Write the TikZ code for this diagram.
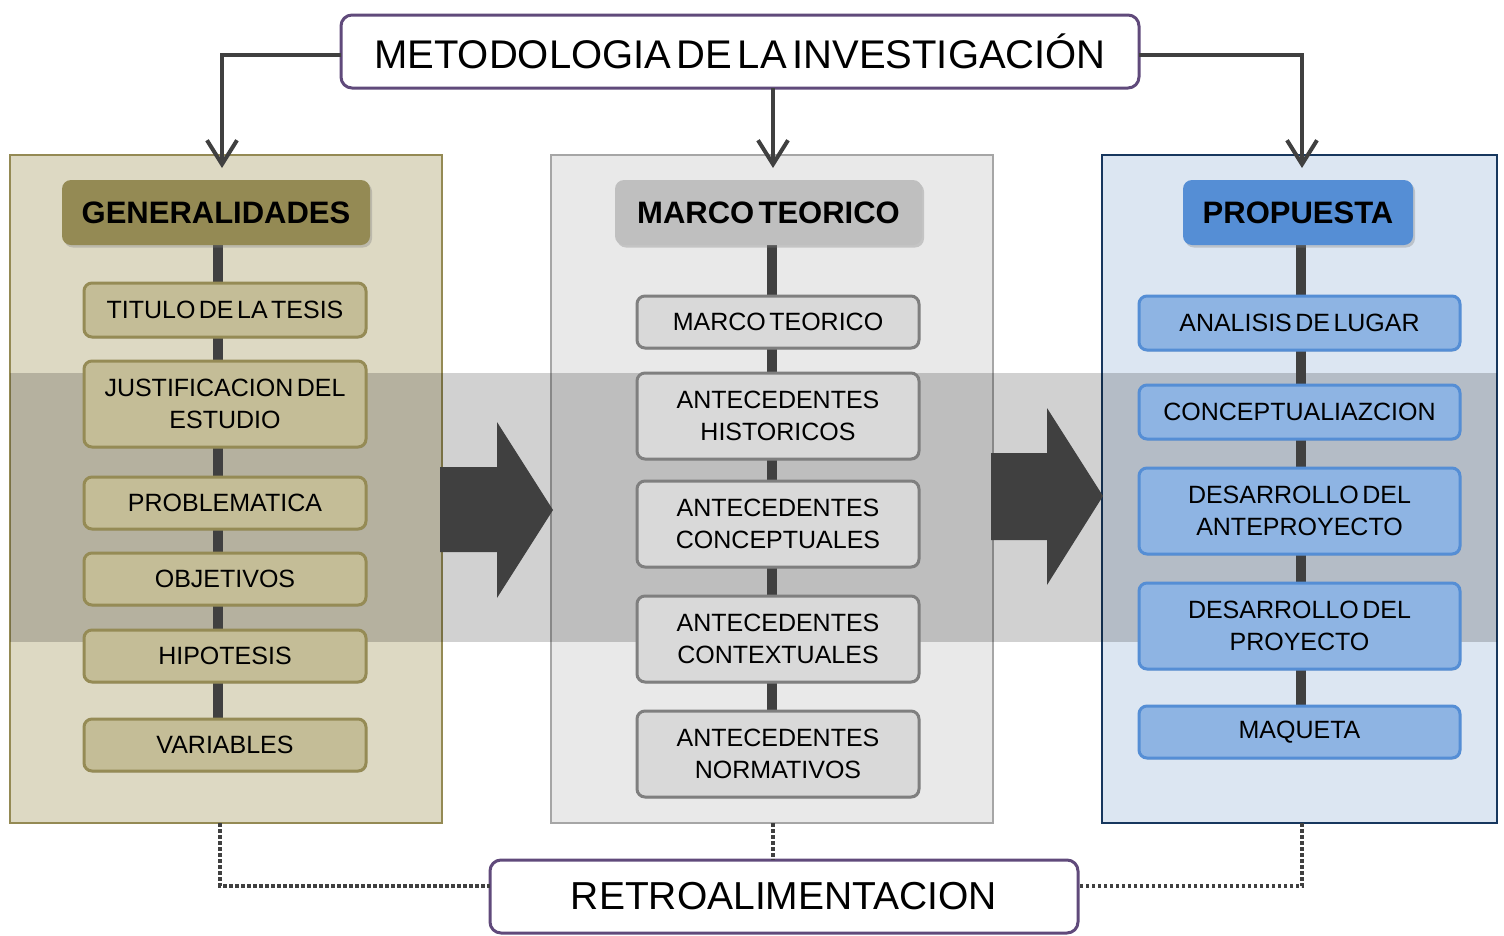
\documentclass[tikz,border=0pt]{standalone}
\usepackage{fontspec}
\setmainfont[WordSpace=0.5]{Liberation Sans}
\usetikzlibrary{arrows.meta,shadows}
\pgfdeclarelayer{back}
\pgfdeclarelayer{mid}
\pgfsetlayers{back,mid,main}
\definecolor{ttl}{HTML}{604A7B}
\definecolor{dk}{HTML}{404040}
\definecolor{pA}{HTML}{DDD9C3}
\definecolor{pAb}{HTML}{948A54}
\definecolor{hA}{HTML}{948A54}
\definecolor{bA}{HTML}{C4BD97}
\definecolor{bAb}{HTML}{958B55}
\definecolor{pB}{HTML}{E9E9E9}
\definecolor{pBb}{HTML}{A6A6A6}
\definecolor{hB}{HTML}{BFBFBF}
\definecolor{bB}{HTML}{D9D9D9}
\definecolor{bBb}{HTML}{7F7F7F}
\definecolor{pC}{HTML}{DCE6F2}
\definecolor{pCb}{HTML}{17375E}
\definecolor{hC}{HTML}{558ED5}
\definecolor{bC}{HTML}{8EB4E3}
\definecolor{bCb}{HTML}{558ED5}
\tikzset{
  panel/.style={draw, line width=2.5pt, minimum height=668pt, inner sep=0pt, outer sep=0pt},
  hdr/.style={rounded corners=9pt, minimum height=65pt, inner sep=0pt, outer sep=0pt,
    font=\fontsize{31}{36}\selectfont\bfseries,
    drop shadow={shadow xshift=2pt, shadow yshift=-2.5pt, opacity=0.35}},
  boxA/.style={draw=bAb, fill=bA, line width=3pt, rounded corners=8pt, minimum width=282pt,
    inner sep=0pt, outer sep=0pt, align=center, font=\fontsize{25}{32}\selectfont,
    drop shadow={shadow xshift=1pt, shadow yshift=-1.5pt, opacity=0.25}},
  boxB/.style={boxA, draw=bBb, fill=bB},
  boxC/.style={boxA, draw=bCb, fill=bC, minimum width=321pt},
  bigbox/.style={draw=ttl, fill=white, line width=3pt, rounded corners=11pt, minimum height=73pt,
    inner sep=0pt, outer sep=0pt},
  spine/.style={draw=dk, line width=10pt},
  conn/.style={draw=dk, line width=4pt, -{Straight Barb[length=24pt,width=30pt,line width=4pt]}},
  fb/.style={draw=dk, line width=4pt, dash pattern=on 3.5pt off 2.5pt},
  bigarrow/.style={fill=dk}
}
\begin{document}
\begin{tikzpicture}[x=1pt,y=-1pt]
\useasboundingbox (0,0) rectangle (1504,935);
\begin{pgfonlayer}{back}
% panels
\node[panel, draw=pAb, fill=pA, minimum width=432pt] (p1) at (226,489) {};
\node[panel, draw=pBb, fill=pB, minimum width=442pt] (p2) at (772,489) {};
\node[panel, draw=pCb, fill=pC, minimum width=395pt] (p3) at (1299.5,489) {};
% band
\fill[black, opacity=0.18] (10,373) rectangle (1497,642);
% big arrows
\fill[bigarrow] (440,467) -- (497,467) -- (497,422) -- (553,510) -- (497,598) -- (497,552) -- (440,552) -- cycle;
\fill[bigarrow] (991,453) -- (1047,453) -- (1047,408) -- (1103,496) -- (1047,585) -- (1047,540) -- (991,540) -- cycle;
\end{pgfonlayer}
% headers
\node[hdr, fill=hA, minimum width=308pt] (h1) at (216,212.5) {GENERALIDADES};
\node[hdr, fill=hB, minimum width=307pt] (h2) at (768.5,212.5) {MARCO TEORICO};
\node[hdr, fill=hC, minimum width=230pt] (h3) at (1298,212.5) {PROPUESTA};
% left boxes
\node[boxA, minimum height=54pt] (t1) at (225,310) {TITULO DE LA TESIS};
\node[boxA, minimum height=86pt] (t2) at (225,404) {JUSTIFICACION DEL\\ESTUDIO};
\node[boxA, minimum height=52pt] (t3) at (225,503) {PROBLEMATICA};
\node[boxA, minimum height=52pt] (t4) at (225,579) {OBJETIVOS};
\node[boxA, minimum height=52pt] (t5) at (225,656) {HIPOTESIS};
\node[boxA, minimum height=52pt] (t6) at (225,745) {VARIABLES};
% middle boxes
\node[boxB, minimum height=52pt] (m1) at (778,322) {MARCO TEORICO};
\node[boxB, minimum height=86pt] (m2) at (778,416) {ANTECEDENTES\\HISTORICOS};
\node[boxB, minimum height=86pt] (m3) at (778,524) {ANTECEDENTES\\CONCEPTUALES};
\node[boxB, minimum height=86pt] (m4) at (778,639) {ANTECEDENTES\\CONTEXTUALES};
\node[boxB, minimum height=86pt] (m5) at (778,754) {ANTECEDENTES\\NORMATIVOS};
% right boxes
\node[boxC, minimum height=54pt] (r1) at (1299.5,323) {ANALISIS DE LUGAR};
\node[boxC, minimum height=54pt] (r2) at (1299.5,412) {CONCEPTUALIAZCION};
\node[boxC, minimum height=86pt] (r3) at (1299.5,511) {DESARROLLO DEL\\ANTEPROYECTO};
\node[boxC, minimum height=86pt] (r4) at (1299.5,626) {DESARROLLO DEL\\PROYECTO};
\node[boxC, minimum height=52pt] (r5) at (1299.5,732) {MAQUETA};
% spines (behind boxes)
\coordinate (s1) at (218,0);
\coordinate (s2) at (772,0);
\coordinate (s3) at (1301,0);
\begin{pgfonlayer}{mid}
\draw[spine] (h1.south -| s1) -- (t6.north -| s1);
\draw[spine] (h2.south -| s2) -- (m5.north -| s2);
\draw[spine] (h3.south -| s3) -- (r5.north -| s3);
\end{pgfonlayer}
% title and feedback
\node[bigbox, minimum width=798pt, font=\fontsize{40}{48}\selectfont] (title) at (740,51.5) {METODOLOGIA DE LA INVESTIGACIÓN};
\node[bigbox, minimum width=588pt, font=\fontsize{39}{44}\selectfont] (retro) at (784,896.5) {RETROALIMENTACION};
\coordinate (a1) at (222,168);
\coordinate (a2) at (773,168);
\coordinate (a3) at (1302,168);
\coordinate (l1) at (0,55);
\draw[conn] (title.west |- l1) -| (a1);
\draw[conn] (title.south -| a2) -- (a2);
\draw[conn] (title.east |- l1) -| (a3);
\coordinate (f1) at (220,886);
\coordinate (f3) at (1302,886);
\draw[fb] (p1.south -| f1) -- (f1) -- (retro.west |- f1);
\draw[fb] (p2.south -| a2) -- (retro.north -| a2);
\draw[fb] (p3.south -| f3) -- (f3) -- (retro.east |- f3);
\end{tikzpicture}
\end{document}
